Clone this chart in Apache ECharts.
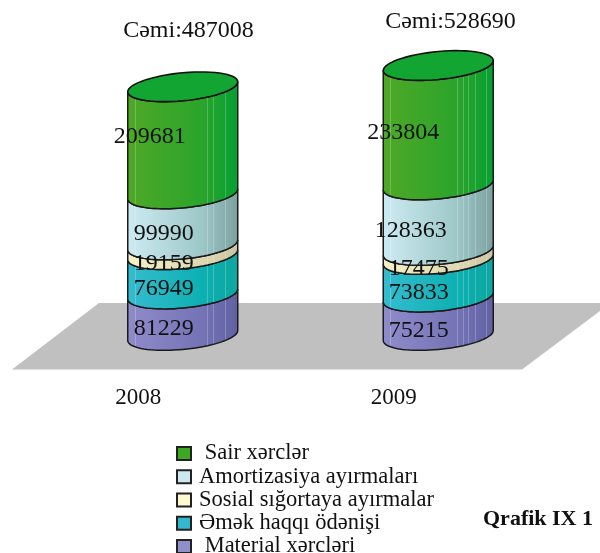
<!DOCTYPE html>
<html>
<head>
<meta charset="utf-8">
<style>html,body{margin:0;padding:0;background:#fff}#c{width:600px;height:553px}</style>
<script src="https://cdn.jsdelivr.net/npm/echarts@6/dist/echarts.min.js"></script>
</head>
<body>
<div id="c"></div>
<script>
const years = ['2008', '2009'];
const material = [81229, 75215];
const labor = [76949, 73833];
const social = [19159, 17475];
const amort = [99990, 128363];
const other = [209681, 233804];
const totals = ['Cəmi:487008', 'Cəmi:528690'];
const names = ['Material xərcləri', 'Əmək haqqı ödənişi', 'Sosial sığortaya ayırmalar', 'Amortizasiya ayırmaları', 'Sair xərclər'];
const stacks = [material, labor, social, amort, other];

// styles and layout are kept apart from the data
const legendFill = ['#9090c8', '#33b8d0', '#fff8d0', '#cde9ef', '#3fa823'];
const shades = [
  ['#8f8bcb', '#7c7abc', '#5f60a2'],
  ['#36bccf', '#0cb4b8', '#0ea6a0'],
  ['#f6f0c6', '#e6dfb8', '#c9c4a2'],
  ['#cdeaf1', '#a9d6d6', '#7c9f9f'],
  ['#4ea826', '#3aa52a', '#03a032']
];
const nudgeX = [[-19, -19.5], [-19, -19.5], [-19, -19.5], [-19, -27.5], [-33, -35]];
const nudgeY = [[0, 0], [0, 0], [0, 0], [0, -1], [-18, -7]];
const totalPos = [[188.5, 31], [450.5, 22]];
const halfH = 14, tilt = 5;

function mix(a, b, t) {
  const p = c => [1, 3, 5].map(i => parseInt(c.substr(i, 2), 16));
  const A = p(a), B = p(b);
  return '#' + A.map((v, i) => Math.round(v + (B[i] - v) * t).toString(16).padStart(2, '0')).join('');
}
const stripePos = [0.07, 0.67, 0.72, 0.77, 0.83, 0.88, 0.93];
function sideFill(s) {
  const at = x => x < 0.55 ? mix(s[0], s[1], x / 0.55) : mix(s[1], s[2], (x - 0.55) / 0.45);
  const stops = [{offset: 0, color: at(0)}];
  stripePos.forEach(x => {
    const c = at(x), light = mix(c, '#ffffff', 0.22);
    stops.push({offset: x, color: c});
    stops.push({offset: x, color: light});
    stops.push({offset: x + 0.007, color: light});
    stops.push({offset: x + 0.007, color: c});
  });
  stops.push({offset: 1, color: at(1)});
  return {type: 'linear', x: 0, y: 0, x2: 1, y2: 0, colorStops: stops};
}
function pointAt(cx, yc, a, t) {
  const c = Math.cos(t), s = Math.sin(t);
  return [cx - a * c, yc + tilt * c + halfH * s];
}
function curve(cx, yc, a, n, reverse) {
  const pts = [];
  for (let i = 0; i <= n; i++) pts.push(pointAt(cx, yc, a, Math.PI * (reverse ? n - i : i) / n));
  return pts;
}
function topEllipse(cx, yc, a, n) {
  const pts = [];
  for (let i = 0; i < n; i++) pts.push(pointAt(cx, yc, a, 2 * Math.PI * i / n));
  return pts;
}

const series = stacks.map((vals, k) => ({
  type: 'custom',
  name: names[k],
  z: 3 + k,
  itemStyle: {color: legendFill[k], borderColor: '#222', borderWidth: 1},
  data: vals.map((v, i) => {
    let base = 0;
    for (let j = 0; j < k; j++) base += stacks[j][i];
    return [i, base, base + v];
  }),
  renderItem: (params, api) => {
    const i = api.value(0);
    const lo = api.coord([i, api.value(1)]);
    const hi = api.coord([i, api.value(2)]);
    const a = 55;
    const cx = lo[0];
    const bottom = curve(cx, lo[1], a, 40, false);
    const upper = curve(cx, hi[1], a, 40, true);
    const kids = [{
      type: 'polygon',
      shape: {points: bottom.concat(upper)},
      style: {fill: sideFill(shades[k]), stroke: '#1a1a1a', lineWidth: 1.5}
    }];
    if (k === stacks.length - 1) {
      kids.push({
        type: 'polygon',
        shape: {points: topEllipse(cx, hi[1], a, 60)},
        style: {fill: '#13a531', stroke: '#111', lineWidth: 1.6}
      });
    }
    return {type: 'group', children: kids};
  }
}));

series.push({
  type: 'custom',
  name: 'values',
  z: 20,
  silent: true,
  data: stacks.flatMap((vals, k) => vals.map((v, i) => {
    let base = 0;
    for (let j = 0; j < k; j++) base += stacks[j][i];
    return [i, base + v / 2, v, k];
  })),
  renderItem: (params, api) => {
    const i = api.value(0), k = api.value(3);
    const p = api.coord([i, api.value(1)]);
    return {
      type: 'text',
      style: {
        x: p[0] + nudgeX[k][i],
        y: p[1] + halfH + nudgeY[k][i],
        text: String(api.value(2)),
        fill: '#111',
        font: '24px "Liberation Serif"',
        align: 'center',
        verticalAlign: 'middle'
      }
    };
  }
});

const chart = echarts.init(document.getElementById('c'), null, {renderer: 'canvas'});
chart.setOption({
  animation: false,
  backgroundColor: '#ffffff',
  grid: {left: 55, width: 511, top: 29.1, height: 306.4},
  xAxis: {
    type: 'category',
    data: years,
    axisLine: {show: false},
    axisTick: {show: false},
    splitLine: {show: false},
    axisLabel: {
      margin: 51,
      color: '#111',
      fontFamily: 'Liberation Serif',
      fontSize: 23,
      padding: [0, 89, 0, 0]
    }
  },
  yAxis: {type: 'value', min: 0, max: 600000, show: false},
  legend: {
    orient: 'vertical',
    left: 176,
    top: 442,
    height: 140,
    itemWidth: 14,
    itemHeight: 13,
    itemGap: 0.25,
    padding: 0,
    align: 'left',
    icon: 'rect',
    data: names.slice().reverse(),
    formatter: n => (n === names[0] || n === names[4]) ? '\u00a0' + n : n,
    textStyle: {fontFamily: 'Liberation Serif', fontSize: 22.5, color: '#111', lineHeight: 22, padding: [0, 0, 0, 3]}
  },
  title: [
    {text: totals[0], left: totalPos[0][0], top: totalPos[0][1], textAlign: 'center', textVerticalAlign: 'middle', padding: 0,
      textStyle: {fontFamily: 'Liberation Serif', fontSize: 24, fontWeight: 'normal', color: '#111'}},
    {text: totals[1], left: totalPos[1][0], top: totalPos[1][1], textAlign: 'center', textVerticalAlign: 'middle', padding: 0,
      textStyle: {fontFamily: 'Liberation Serif', fontSize: 24, fontWeight: 'normal', color: '#111'}},
    {text: 'Qrafik IX 1', left: 483, top: 519, textVerticalAlign: 'middle', padding: 0,
      textStyle: {fontFamily: 'Liberation Serif', fontSize: 22, fontWeight: 'bold', color: '#111'}}
  ],
  graphic: [{
    type: 'polygon',
    z: -10,
    silent: true,
    shape: {points: [[12, 369.5], [99, 303], [600, 303], [600, 311], [522, 369.5]]},
    style: {fill: '#c0c0c0'}
  }],
  series: series
});
</script>
</body>
</html>
